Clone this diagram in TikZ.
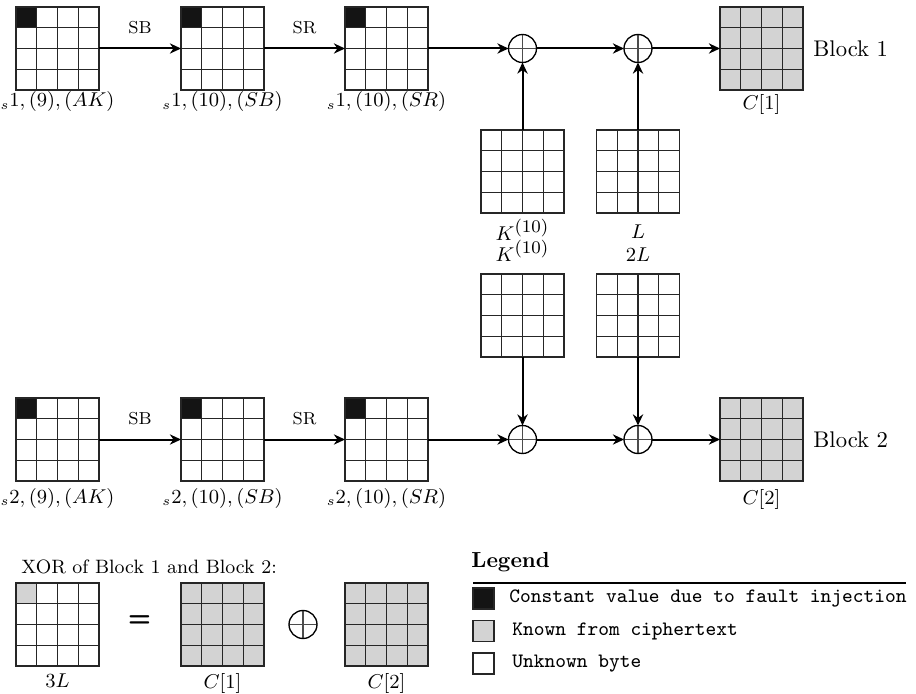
\documentclass[tikz,border=0pt]{standalone}
\usepackage{fontspec}
\usetikzlibrary{arrows.meta,calc}
\definecolor{known}{RGB}{211,211,211}
\definecolor{fault}{RGB}{20,20,20}
\tikzset{
  x=0.45pt, y=-0.45pt,
  gline/.style={line width=0.65pt, draw=black!85},
  gridbox/.style={minimum size=37.35pt, inner sep=0pt, outer sep=0pt},
  conn/.style={line width=0.9pt, -{Stealth[length=5pt,width=4.6pt,inset=1.6pt]}},
  xorop/.style={circle, draw, line width=0.6pt, minimum size=12.6pt, inner sep=0pt, outer sep=0pt,
    path picture={\draw[line width=0.5pt, black!70]
      (path picture bounding box.north) -- (path picture bounding box.south)
      (path picture bounding box.west) -- (path picture bounding box.east);}},
  lbl/.style={font=\fontsize{9}{11}\selectfont, anchor=base, inner sep=0pt},
  oplbl/.style={font=\fontsize{7.8}{9}\selectfont, inner sep=0pt},
  blk/.style={font=\fontsize{10.2}{12}\selectfont, anchor=west, inner sep=0pt},
  legtxt/.style={font=\ttfamily\fontsize{9.2}{11}\selectfont, anchor=west, inner sep=0pt},
  legsq/.style={gline, minimum size=9.45pt, inner sep=0pt, outer sep=0pt, anchor=north west},
}
\newcommand{\sgrid}[5]{%
  \node[gridbox, fill=#4] (#1) at (#2,#3) {};
  \fill[#5] (#1.north west) rectangle ($(#1.north west)!0.5!(#1.center)$);
  \foreach \f in {0.25,0.5,0.75}{%
    \draw[gline] ($(#1.north west)!\f!(#1.north east)$) -- ($(#1.south west)!\f!(#1.south east)$);
    \draw[gline] ($(#1.north west)!\f!(#1.south west)$) -- ($(#1.north east)!\f!(#1.south east)$);
  }
  \draw[gline] (#1.south west) rectangle (#1.north east);
}
\newcommand{\bigsup}[1]{^{\mbox{\fontsize{8.5}{10}\selectfont$#1$}}}
\begin{document}
\begin{tikzpicture}
\useasboundingbox[fill=white] (0,0) rectangle (916,694);

% ---- Block 1 ----
\sgrid{a1}{57.5}{48.5}{white}{fault}
\sgrid{b1}{222.5}{48.5}{white}{fault}
\sgrid{c1}{386.5}{48.5}{white}{fault}
\sgrid{o1}{761.5}{48.5}{known}{known}
\node[xorop] (x11) at (522.5,48.5) {};
\node[xorop] (x12) at (638,48.5) {};
\sgrid{k1}{522.5}{171.5}{white}{white}
\sgrid{l1}{638}{171.5}{white}{white}

\draw[conn] (a1) -- node[oplbl, above=6pt] (sb1) {SB} (b1);
\draw[conn] (b1) -- node[oplbl, above=6pt] (sr1) {SR} (c1);
\draw[conn] (c1) -- (x11);
\draw[conn] (x11) -- (x12);
\draw[conn] (x12) -- (o1);
\draw[conn] (k1) -- (x11);
\draw[conn] (l1) -- (x12);

\node[lbl] (la1) at (57.5,107) {${}_{s}1,(9),(AK)$};
\node[lbl] (lb1) at (222.5,107) {${}_{s}1,(10),(SB)$};
\node[lbl] (lc1) at (386.5,107) {${}_{s}1,(10),(SR)$};
\node[lbl] (lo1) at (761.5,110) {$C[1]$};
\node[blk] (blk1) at (813,48.5) {Block 1};
\node[lbl] (lk1) at (522.5,241) {$K\bigsup{(10)}$};
\node[lbl] (ll1) at (638,239) {$L$};

% ---- Block 2 ----
\node[lbl] (lk2) at (522.5,262) {$K\bigsup{(10)}$};
\node[lbl] (ll2) at (638,262) {$2L$};
\sgrid{k2}{522.5}{315.5}{white}{white}
\sgrid{l2}{638}{315.5}{white}{white}
\sgrid{a2}{57.5}{439.5}{white}{fault}
\sgrid{b2}{222.5}{439.5}{white}{fault}
\sgrid{c2}{386.5}{439.5}{white}{fault}
\sgrid{o2}{761.5}{439.5}{known}{known}
\node[xorop] (x21) at (522.5,439.5) {};
\node[xorop] (x22) at (638,439.5) {};

\draw[conn] (a2) -- node[oplbl, above=6pt] (sb2) {SB} (b2);
\draw[conn] (b2) -- node[oplbl, above=6pt] (sr2) {SR} (c2);
\draw[conn] (c2) -- (x21);
\draw[conn] (x21) -- (x22);
\draw[conn] (x22) -- (o2);
\draw[conn] (k2) -- (x21);
\draw[conn] (l2) -- (x22);

\node[lbl] (la2) at (57.5,503) {${}_{s}2,(9),(AK)$};
\node[lbl] (lb2) at (222.5,503) {${}_{s}2,(10),(SB)$};
\node[lbl] (lc2) at (386.5,503) {${}_{s}2,(10),(SR)$};
\node[lbl] (lo2) at (761.5,504) {$C[2]$};
\node[blk] (blk2) at (813,439.5) {Block 2};

% ---- XOR of blocks ----
\node[font=\fontsize{8.7}{11}\selectfont, anchor=base west, inner sep=0pt] (xt) at (21,573) {XOR of Block 1 and Block 2:};
\sgrid{d1}{57.5}{624.5}{white}{known}
\sgrid{d2}{222.5}{624.5}{known}{known}
\sgrid{d3}{386.5}{624.5}{known}{known}
\node[font=\sffamily\bfseries\fontsize{12}{14}\selectfont, inner sep=0pt] (eq) at (139.5,621) {=};
\node[xorop] (xb) at (303,624.5) {};
\node[lbl] (ld1) at (57.5,687) {$3L$};
\node[lbl] (ld2) at (222.5,688) {$C[1]$};
\node[lbl] (ld3) at (386.5,688) {$C[2]$};

% ---- Legend ----
\node[font=\bfseries\fontsize{9.8}{12}\selectfont, anchor=base west, inner sep=0pt] (leg) at (471,567) {Legend};
\coordinate (rl) at (473,583);
\coordinate (rr) at (906,583);
\draw[line width=0.55pt] (rl) -- (rr);
\node[legsq, fill=fault] (q1) at (473,588) {};
\node[legsq, fill=known] (q2) at (473,620.5) {};
\node[legsq, fill=white] (q3) at (473,653) {};
\node[legtxt] (t1) at (509,598) {Constant value due to fault injection};
\node[legtxt] (t2) at (512,631) {Known from ciphertext};
\node[legtxt] (t3) at (512,664) {Unknown byte};
\end{tikzpicture}
\end{document}
